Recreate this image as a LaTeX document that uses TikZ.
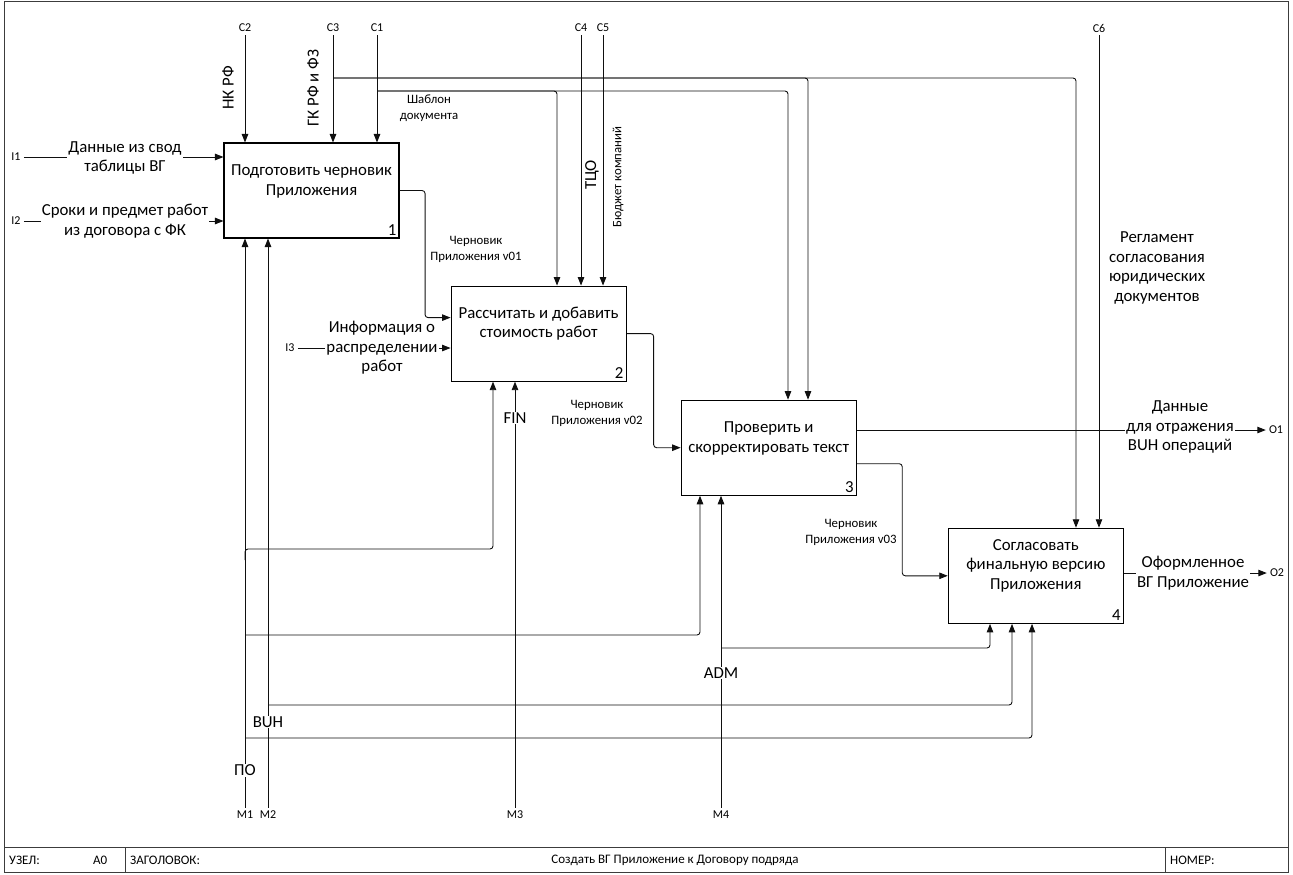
\documentclass[tikz,border=0pt]{standalone}
\usepackage{fontspec}
\setmainfont{Carlito}
\usetikzlibrary{calc,arrows.meta,positioning}
\definecolor{lineColor}{RGB}{15,15,15}
\definecolor{frameColor}{RGB}{60,60,60}
\newcommand{\boxfont}{\fontsize{16.8}{19.5}\selectfont}
\newcommand{\notefont}{\fontsize{12.8}{16}\selectfont}
\newcommand{\portfont}{\fontsize{12}{13}\selectfont}
\newcommand{\footfont}{\fontsize{13}{14}\selectfont}

\begin{document}
\begin{tikzpicture}[x=1pt, y=-1pt,
    act/.style={draw, line width=1.1pt, minimum width=175pt, minimum height=95pt, inner sep=0pt},
    acttext/.style={align=center, font=\boxfont},
    num/.style={anchor=south east, font=\boxfont, inner sep=3pt},
    port/.style={font=\portfont, inner sep=3pt},
    lbl/.style={align=center, font=\boxfont, fill=white, inner sep=1pt},
    side/.style={align=center, font=\boxfont, inner sep=1pt},
    note/.style={align=center, font=\notefont, inner sep=1pt},
    foot/.style={font=\footfont, inner sep=0pt},
    arr/.style={-{Triangle[length=8.5pt,width=6.5pt]}, line width=0.9pt, lineColor, rounded corners=3pt},
    frame/.style={line width=1pt, frameColor}
  ]
  \useasboundingbox (0,0) rectangle (1293,875);

  % frame and footer
  \draw[frame] (4,2) rectangle (1288,872);
  \draw[frame] (4,847) -- (1288,847);
  \draw[frame] (125,847) -- (125,872);
  \draw[frame] (1165,847) -- (1165,872);
  \node[foot, anchor=west] (node) at (9,860) {УЗЕЛ:};
  \node[foot, anchor=west] (nodeid) at (93,860) {A0};
  \node[foot, anchor=west] (title) at (130,860) {ЗАГОЛОВОК:};
  \node[foot] (titletext) at (675,860) {Создать ВГ Приложение к Договору подряда};
  \node[foot, anchor=west] (number) at (1170,860) {НОМЕР:};

  % activities
  \node[act] (prep) at (311.5,190.5) {};
  \node[act, below right=47pt and 51pt of prep] (calc) {};
  \node[act, below right=18pt and 54pt of calc] (check) {};
  \node[act, below right=32pt and 91pt of check] (agree) {};

  \node[acttext] (prept) at ([yshift=9pt]prep.center) {Подготовить черновик\\Приложения};
  \node[acttext] (calct) at ([yshift=10pt]calc.center) {Рассчитать и добавить\\стоимость работ};
  \node[acttext] (checkt) at ([yshift=9pt]check.center) {Проверить и\\скорректировать текст};
  \node[acttext] (agreet) at ([yshift=10pt]agree.center) {Согласовать\\финальную версию\\Приложения};
  \node[num] (prepn) at (prep.south east) {1};
  \node[num] (calcn) at (calc.south east) {2};
  \node[num] (checkn) at (check.south east) {3};
  \node[num] (agreen) at (agree.south east) {4};

  % border ports
  \node[port] (i1) at (16,157) {I1};
  \node[port] (i2) at (16,221) {I2};
  \node[port] (i3) at (290,348) {I3};
  \node[port] (c2) at (245,28) {C2};
  \node[port] (c3) at (333,28) {C3};
  \node[port] (c1) at (377,28) {C1};
  \node[port] (c4) at (581,28) {C4};
  \node[port] (c5) at (603,28) {C5};
  \node[port] (c6) at (1099,28) {C6};
  \node[port] (o1) at (1276,430) {O1};
  \node[port] (o2) at (1277,573) {O2};
  \node[port] (m1) at (245,815) {M1};
  \node[port] (m2) at (268,815) {M2};
  \node[port] (m3) at (515,815) {M3};
  \node[port] (m4) at (721,815) {M4};

  % inputs
  \draw[arr] (i1.east) -- (prep.west |- i1);
  \draw[arr] (i2.east) -- (prep.west |- i2);
  \draw[arr] (i3.east) -- (calc.west |- i3);

  % controls
  \draw[arr] (c2.south) -- (c2 |- prep.north);
  \draw[arr] (c3.south) -- (c3 |- prep.north);
  \draw[arr] (c1.south) -- (c1 |- prep.north);
  \draw[arr] (c4.south) -- (c4 |- calc.north);
  \draw[arr] (c5.south) -- (c5 |- calc.north);
  \draw[arr] (c6.south) -- (c6 |- agree.north);
  \coordinate (c3bus) at (c3 |- 0,78);
  \coordinate (c1bus) at (c1 |- 0,91);
  \draw[arr] (c3bus) -| (808,0 |- check.north);
  \draw[arr] (c3bus) -| (1076,0 |- agree.north);
  \draw[arr] (c1bus) -| (557,0 |- calc.north);
  \draw[arr] (c1bus) -| (788,0 |- check.north);

  % outputs
  \draw[arr] (prep.east) -| ($(prep.east)!0.5!(calc.west)$) |- ([yshift=16pt]calc.west);
  \draw[arr] (calc.east) -| ($(calc.east)!0.5!(check.west)$) |- (check.west);
  \draw[arr] ([yshift=-16pt]check.east) -| ($(check.east)!0.5!(agree.west)$) |- (agree.west);
  \draw[arr] (check.east |- o1) -- (o1.west);
  \draw[arr] (agree.east |- o2) -- (o2.west);

  % mechanisms
  \draw[arr] (m1.north) -- (m1 |- prep.south);
  \draw[arr] (m2.north) -- (m2 |- prep.south);
  \draw[arr] (m3.north) -- (m3 |- calc.south);
  \draw[arr] (m4.north) -- (m4 |- check.south);
  \coordinate (m1a) at (m1 |- 0,560);
  \coordinate (m1b) at (m1 |- 0,635);
  \coordinate (m1c) at (m1 |- 0,738);
  \coordinate (m2a) at (m2 |- 0,705);
  \coordinate (m4a) at (m4 |- 0,648);
  \draw[arr] (m1a) |- (493,549) -- (493,0 |- calc.south);
  \draw[arr] (m1b) -| (700,0 |- check.south);
  \draw[arr] (m1c) -| (1032,0 |- agree.south);
  \draw[arr] (m2a) -| (1012,0 |- agree.south);
  \draw[arr] (m4a) -| (990,0 |- agree.south);

  % arrow labels
  \node[lbl] (i1lbl) at (125,158) {Данные из свод\\таблицы ВГ};
  \node[lbl] (i2lbl) at (125,221) {Сроки и предмет работ\\из договора с ФК};
  \node[lbl] (i3lbl) at (382,348) {Информация о\\распределении\\работ};
  \node[side, rotate=90] (c2lbl) at (228,88) {НК РФ};
  \node[side, rotate=90] (c3lbl) at (313,88) {ГК РФ и ФЗ};
  \node[note] (c1lbl) at (429,108) {Шаблон\\документа};
  \node[side, rotate=90] (c4lbl) at (592,175) {ТЦО};
  \node[note, rotate=90] (c5lbl) at (618,177) {Бюджет компаний};
  \node[side] (c6lbl) at (1157,268) {Регламент\\согласования\\юридических\\документов};
  \node[note] (v01) at (476,249) {Черновик\\Приложения v01};
  \node[note] (v02) at (597,413) {Черновик\\Приложения v02};
  \node[note] (v03) at (851,532) {Черновик\\Приложения v03};
  \node[lbl] (o1lbl) at (1180,427) {Данные\\для отражения\\BUH операций};
  \node[lbl] (o2lbl) at (1193,573) {Оформленное\\ВГ Приложение};
  \node[lbl] (m1lbl) at (245,770) {ПО};
  \node[lbl] (m2lbl) at (268,722) {BUH};
  \node[lbl] (m3lbl) at (515,418) {FIN};
  \node[lbl] (m4lbl) at (721,673) {ADM};
\end{tikzpicture}
\end{document}
